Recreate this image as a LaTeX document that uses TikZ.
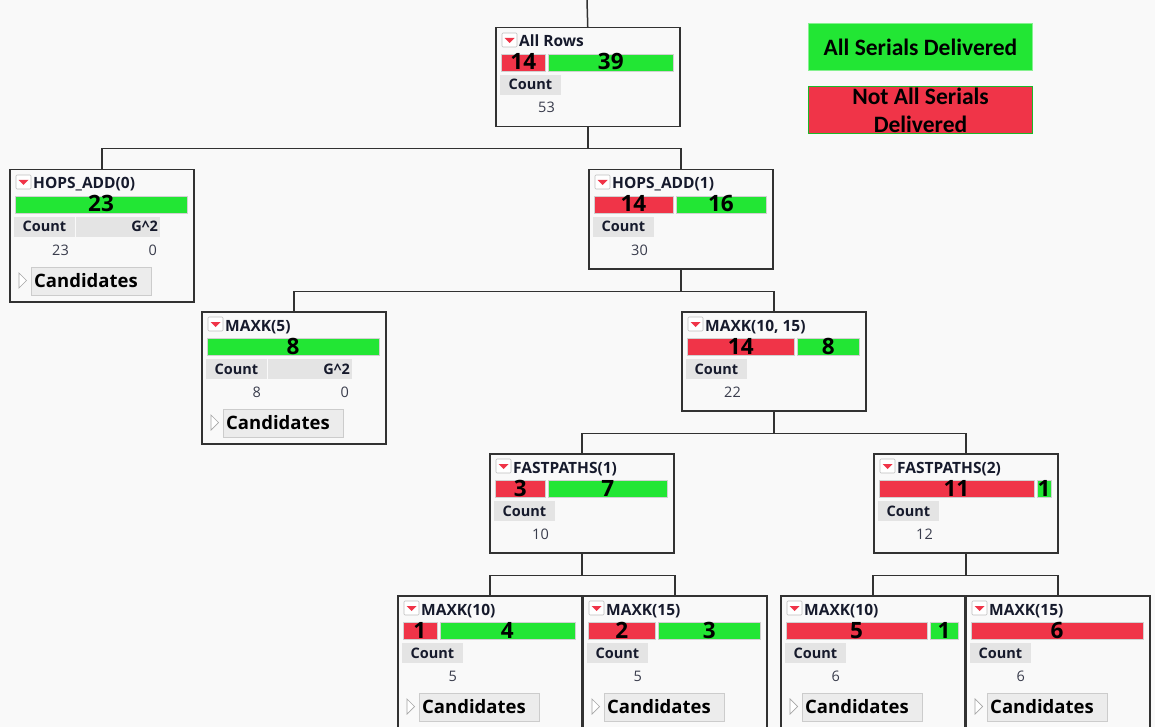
\documentclass[tikz,border=0pt]{standalone}
\usepackage{fontspec}
\setmainfont{Open Sans}
\newfontfamily\legendfont{Carlito}

\definecolor{jgreen}{RGB}{34,230,52}
\definecolor{jred}{RGB}{240,52,72}
\definecolor{jbg}{RGB}{249,249,249}
\definecolor{jline}{RGB}{50,50,50}
\definecolor{jhdr}{RGB}{228,228,228}
\definecolor{jbtn}{RGB}{236,236,236}
\definecolor{jtext}{RGB}{22,26,44}

% box heading: menu icon and title
\newcommand{\nodehead}[2]{%
  \begin{scope}[shift={(#1.north west)}]
    \draw[icon] (7,6) rectangle (22,20);
    \fill[jred] (9.5,11) -- (19.5,11) -- (14.5,16) -- cycle;
    \node[titletext] (#1-title) at (24,20) {#2};
  \end{scope}}

% split bar, red count then green count
\newcommand{\splitbar}[3]{%
  \begin{scope}[shift={(#1.north west)}]
    \ifnum#2=0\relax
      \draw[gseg] (6,27) rectangle (178,44);
      \node[barnum] (#1-g) at (92,43) {#3};
    \else\ifnum#3=0\relax
      \draw[rseg] (6,27) rectangle (178,44);
      \node[barnum] (#1-r) at (92,43) {#2};
    \else
      \pgfmathsetmacro\rw{6+169*#2/(#2+#3)}
      \pgfmathsetmacro\gx{\rw+3}
      \draw[rseg] (6,27) rectangle (\rw,44);
      \draw[gseg] (\gx,27) rectangle (178,44);
      \node[barnum] (#1-r) at ({(6+\rw)/2},43) {#2};
      \node[barnum] (#1-g) at ({(\gx+178)/2},43) {#3};
    \fi\fi
  \end{scope}}

% count column
\newcommand{\countcell}[2]{%
  \begin{scope}[shift={(#1.north west)}]
    \fill[jhdr] (5,48) rectangle (66,68);
    \node[hdrtext] (#1-ch) at (35.5,63) {Count};
    \node[valtext] (#1-cv) at (60,86) {#2};
  \end{scope}}

% G^2 column
\newcommand{\gsqcell}[1]{%
  \begin{scope}[shift={(#1.north west)}]
    \fill[jhdr] (67,48) rectangle (151,68);
    \node[hdrtext, anchor=base east] (#1-gh) at (149,63) {G\textasciicircum 2};
    \node[valtext] (#1-gv) at (148,86) {0};
  \end{scope}}

% candidates button
\newcommand{\candbtn}[1]{%
  \begin{scope}[shift={(#1.north west)}]
    \draw[tri] (10,104) -- (17.5,111.5) -- (10,119) -- cycle;
    \draw[btn] (22,98) rectangle (142,126);
    \node[btntext] (#1-cand) at (25,118) {Candidates};
  \end{scope}}

\begin{document}
\begin{tikzpicture}[x=1pt, y=-1pt,
  jbox/.style={draw=jline, line width=1.5pt, fill=jbg, anchor=north west,
    minimum width=184pt, minimum height=99pt, inner sep=0pt},
  tall/.style={minimum height=132pt},
  cut/.style={minimum height=136pt},
  link/.style={draw=jline, line width=1.5pt},
  icon/.style={draw=black!25, fill=white, line width=0.6pt, rounded corners=1pt},
  titletext/.style={font=\fontsize{15.5}{16}\selectfont\bfseries, text=jtext, inner sep=0pt, anchor=base west},
  barnum/.style={font=\fontsize{22.5}{22}\selectfont\bfseries, text=black, inner sep=0pt, anchor=base},
  rseg/.style={fill=jred, draw=black!18, line width=0.6pt},
  gseg/.style={fill=jgreen, draw=black!18, line width=0.6pt},
  hdrtext/.style={font=\fontsize{14.5}{15}\selectfont\bfseries, text=jtext, inner sep=0pt, anchor=base},
  valtext/.style={font=\fontsize{14.5}{15}\selectfont, text=jtext!85, inner sep=0pt, anchor=base east},
  tri/.style={draw=black!35, fill=white, line width=0.7pt},
  btn/.style={draw=black!20, fill=jbtn, line width=0.8pt},
  btntext/.style={font=\fontsize{18.5}{19}\selectfont\bfseries, text=black, inner sep=0pt, anchor=base west},
  legbox/.style={anchor=north west, minimum width=224pt, minimum height=47pt, inner sep=0pt,
    line width=1pt, align=center, font=\legendfont\fontsize{23.5}{28}\selectfont\bfseries},
]
\useasboundingbox (0,0) rectangle (1155,727);
\fill[jbg] (0,0) rectangle (1155,727);

% boxes
\node[jbox] (root) at (495,27) {};
\node[jbox, tall] (hops0) at (9,169) {};
\node[jbox] (hops1) at (588,169) {};
\node[jbox, tall] (maxk5) at (201,311) {};
\node[jbox] (maxk1015) at (681,311) {};
\node[jbox] (fast1) at (489,453) {};
\node[jbox] (fast2) at (873,453) {};
\node[jbox, cut] (mka) at (397,595) {};
\node[jbox, cut] (mkb) at (582,595) {};
\node[jbox, cut] (mkc) at (780,595) {};
\node[jbox, cut] (mkd) at (965,595) {};

% contents
\nodehead{root}{All Rows}
\splitbar{root}{14}{39}
\countcell{root}{53}

\nodehead{hops0}{HOPS\_ADD(0)}
\splitbar{hops0}{0}{23}
\countcell{hops0}{23}
\gsqcell{hops0}
\candbtn{hops0}

\nodehead{hops1}{HOPS\_ADD(1)}
\splitbar{hops1}{14}{16}
\countcell{hops1}{30}

\nodehead{maxk5}{MAXK(5)}
\splitbar{maxk5}{0}{8}
\countcell{maxk5}{8}
\gsqcell{maxk5}
\candbtn{maxk5}

\nodehead{maxk1015}{MAXK(10, 15)}
\splitbar{maxk1015}{14}{8}
\countcell{maxk1015}{22}

\nodehead{fast1}{FASTPATHS(1)}
\splitbar{fast1}{3}{7}
\countcell{fast1}{10}

\nodehead{fast2}{FASTPATHS(2)}
\splitbar{fast2}{11}{1}
\countcell{fast2}{12}

\nodehead{mka}{MAXK(10)}
\splitbar{mka}{1}{4}
\countcell{mka}{5}
\candbtn{mka}

\nodehead{mkb}{MAXK(15)}
\splitbar{mkb}{2}{3}
\countcell{mkb}{5}
\candbtn{mkb}

\nodehead{mkc}{MAXK(10)}
\splitbar{mkc}{5}{1}
\countcell{mkc}{6}
\candbtn{mkc}

\nodehead{mkd}{MAXK(15)}
\splitbar{mkd}{6}{0}
\countcell{mkd}{6}
\candbtn{mkd}

% tree lines
\coordinate (top) at (587,0);
\draw[link] (top) -- (root.north);
\draw[link] (root.south) -- ++(0,21) -| (hops0.north);
\draw[link] (root.south) -- ++(0,21) -| (hops1.north);
\draw[link] (hops1.south) -- ++(0,22) -| (maxk5.north);
\draw[link] (hops1.south) -- ++(0,22) -| (maxk1015.north);
\draw[link] (maxk1015.south) -- ++(0,22) -| (fast1.north);
\draw[link] (maxk1015.south) -- ++(0,22) -| (fast2.north);
\draw[link] (fast1.south) -- ++(0,22) -| (mka.north);
\draw[link] (fast1.south) -- ++(0,22) -| (mkb.north);
\draw[link] (fast2.south) -- ++(0,22) -| (mkc.north);
\draw[link] (fast2.south) -- ++(0,22) -| (mkd.north);

% legend
\node[legbox, fill=jgreen, draw=jgreen!55!white] (legok) at (808,23) {All Serials Delivered};
\node[legbox, fill=jred, draw=jgreen!80!black] (legnot) at (808,86) {Not All Serials\\Delivered};
\end{tikzpicture}
\end{document}
